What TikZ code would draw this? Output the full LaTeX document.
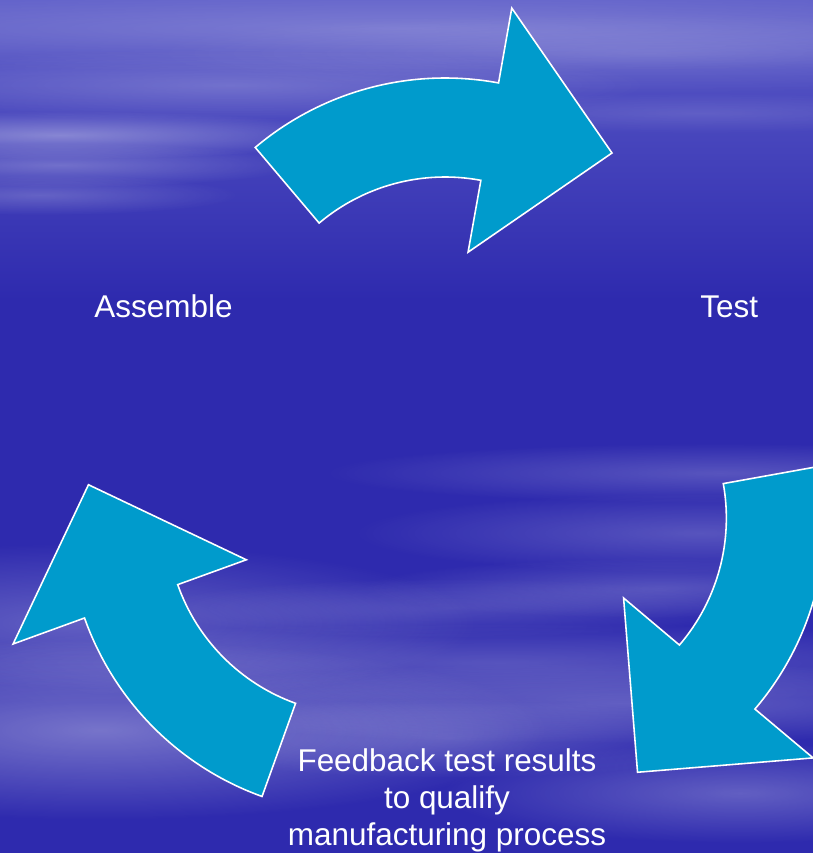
\documentclass[tikz,border=0pt]{standalone}
\usepackage{fontspec}
\setmainfont{Liberation Sans}
\usetikzlibrary{fadings}
\definecolor{BgBlue}{RGB}{46,42,174}
\definecolor{BgTop}{RGB}{92,92,200}
\definecolor{ArrowBlue}{RGB}{0,155,204}
\tikzfading[name = fuzzy, inner color = transparent!0, outer color = transparent!100]

\begin{document}
\begin{tikzpicture}[x = 0.02cm, y = 0.02cm]
\tikzstyle{ArrowStyle}=[fill = ArrowBlue,
                        draw = white,
                        line width = 0.9pt,
                        line join = miter]
\tikzstyle{LabelStyle}=[text = white,
                        font = \fontsize{17.9}{21}\selectfont,
                        inner sep = 0pt,
                        align = center]
\tikzstyle{CloudStyle}=[fill = white,
                        path fading = fuzzy]
\useasboundingbox (0,0) rectangle (813,853);
\clip (0,0) rectangle (813,853);
\fill[BgBlue] (0,0) rectangle (813,853);
\shade[top color = BgTop, bottom color = BgBlue] (0,553) rectangle (813,853);
\fill[CloudStyle, opacity = 0.22] (400,825) ellipse (900 and 44);
\fill[CloudStyle, opacity = 0.20] (230,768) ellipse (420 and 36);
\fill[CloudStyle, opacity = 0.35] (60,718) ellipse (300 and 24);
\fill[CloudStyle, opacity = 0.25] (60,688) ellipse (240 and 22);
\fill[CloudStyle, opacity = 0.20] (40,658) ellipse (200 and 20);
\fill[CloudStyle, opacity = 0.15] (650,800) ellipse (500 and 40);
\fill[CloudStyle, opacity = 0.12] (700,740) ellipse (300 and 20);
\fill[CloudStyle, opacity = 0.20] (720,380) ellipse (400 and 30);
\fill[CloudStyle, opacity = 0.20] (700,320) ellipse (350 and 40);
\fill[CloudStyle, opacity = 0.20] (660,265) ellipse (300 and 30);
\fill[CloudStyle, opacity = 0.25] (80,230) ellipse (400 and 80);
\fill[CloudStyle, opacity = 0.35] (100,123) ellipse (450 and 90);
\fill[CloudStyle, opacity = 0.15] (450,245) ellipse (300 and 30);
\fill[CloudStyle, opacity = 0.20] (500,190) ellipse (600 and 40);
\fill[CloudStyle, opacity = 0.25] (620,150) ellipse (500 and 40);
\fill[CloudStyle, opacity = 0.25] (740,60) ellipse (300 and 50);
\fill[CloudStyle, opacity = 0.20] (450,115) ellipse (300 and 40);
\foreach \r in {0,-120,-240}
{
\begin{scope}[rotate around = {\r:(446,383)}, shift = {(445,481)}]
\path[ArrowStyle] (130.2:294) arc[start angle = 130.2, end angle = 79.5, radius = 294]
   -- (79.6:370) -- (167,219) -- (79.1:122) -- (79.4:195)
   arc[start angle = 79.4, end angle = 130.2, radius = 195] -- cycle;
\end{scope}
}
\node[LabelStyle] (assemble) at (163.5,546.5) {Assemble};
\node[LabelStyle] (test) at (729.2,546.5) {Test};
\node[LabelStyle, anchor = north] (feedback) at (447,104.3) {Feedback test results\\to qualify\\manufacturing process};
\end{tikzpicture}
\end{document}
